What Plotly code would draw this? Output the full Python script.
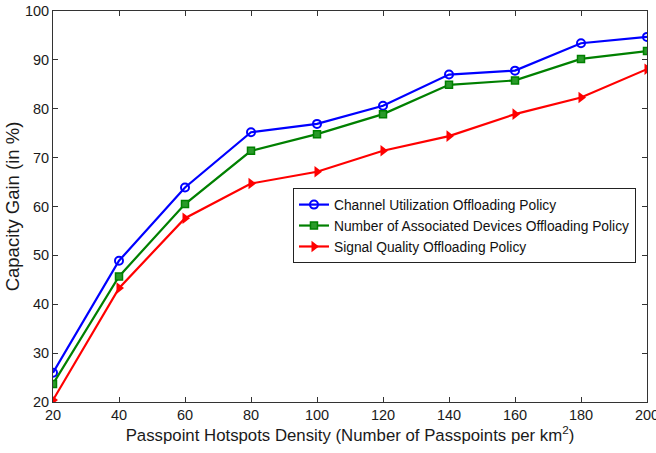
import plotly.graph_objects as go

density = [20, 40, 60, 80, 100, 120, 140, 160, 180, 200]
channel_util = [26.0, 48.9, 63.9, 75.2, 76.9, 80.6, 87.0, 87.8, 93.4, 94.7]
num_devices = [23.7, 45.7, 60.5, 71.4, 74.8, 78.9, 84.9, 85.8, 90.2, 91.8]
signal_quality = [20.4, 43.3, 57.6, 64.7, 67.1, 71.4, 74.4, 78.9, 82.3, 88.1]

names = ["Channel Utilization Offloading Policy",
         "Number of Associated Devices Offloading Policy",
         "Signal Quality Offloading Policy"]

fig = go.Figure()
fig.add_trace(go.Scatter(x=density, y=channel_util, name=names[0], mode="lines+markers",
                         line=dict(color="#0000ff", width=2.2),
                         marker=dict(symbol="circle-open", size=8, color="#0000ff",
                                     line=dict(width=2, color="#0000ff"))))
fig.add_trace(go.Scatter(x=density, y=num_devices, name=names[1], mode="lines+markers",
                         line=dict(color="#008000", width=2.2),
                         marker=dict(symbol="square", size=7, color="#2a9a2a",
                                     line=dict(width=1.5, color="#008000"))))
fig.add_trace(go.Scatter(x=density, y=signal_quality, name=names[2], mode="lines+markers",
                         line=dict(color="#ff0000", width=2.2),
                         marker=dict(symbol="triangle-right", size=10, color="#ff0000",
                                     line=dict(width=0))))

fam = "Liberation Sans, Arial, Helvetica, sans-serif"
fig.update_layout(
    width=656, height=453,
    margin=dict(l=53, r=9, t=11, b=51),
    paper_bgcolor="white", plot_bgcolor="white",
    font=dict(family=fam, color="#1a1a1a", size=14),
    showlegend=True,
    legend=dict(x=0.404, y=0.547, xanchor="left", yanchor="top",
                bgcolor="white", bordercolor="#222222", borderwidth=1,
                font=dict(size=13.8, family=fam, color="#111111"),
                tracegroupgap=0, itemwidth=30),
)
fig.update_xaxes(range=[20, 200], tickvals=density, ticks="inside", ticklen=5,
                 showline=True, linecolor="#333333", linewidth=1, mirror="ticks",
                 showgrid=False, zeroline=False, tickcolor="#333333", automargin=False,
                 tickfont=dict(size=14.5, family=fam), ticklabeloverflow="allow",
                 title=dict(text="Passpoint Hotspots Density (Number of Passpoints per km<sup>2</sup>)",
                            font=dict(size=16.8, family=fam), standoff=6))
fig.update_yaxes(range=[20, 100], dtick=10, ticks="inside", ticklen=5,
                 showline=True, linecolor="#333333", linewidth=1, mirror="ticks",
                 showgrid=False, zeroline=False, tickcolor="#333333", automargin=False,
                 tickfont=dict(size=14.5, family=fam), ticklabeloverflow="allow",
                 title=dict(text="Capacity Gain (in %)", font=dict(size=18.5, family=fam), standoff=0))

fig.write_html("out.html")
